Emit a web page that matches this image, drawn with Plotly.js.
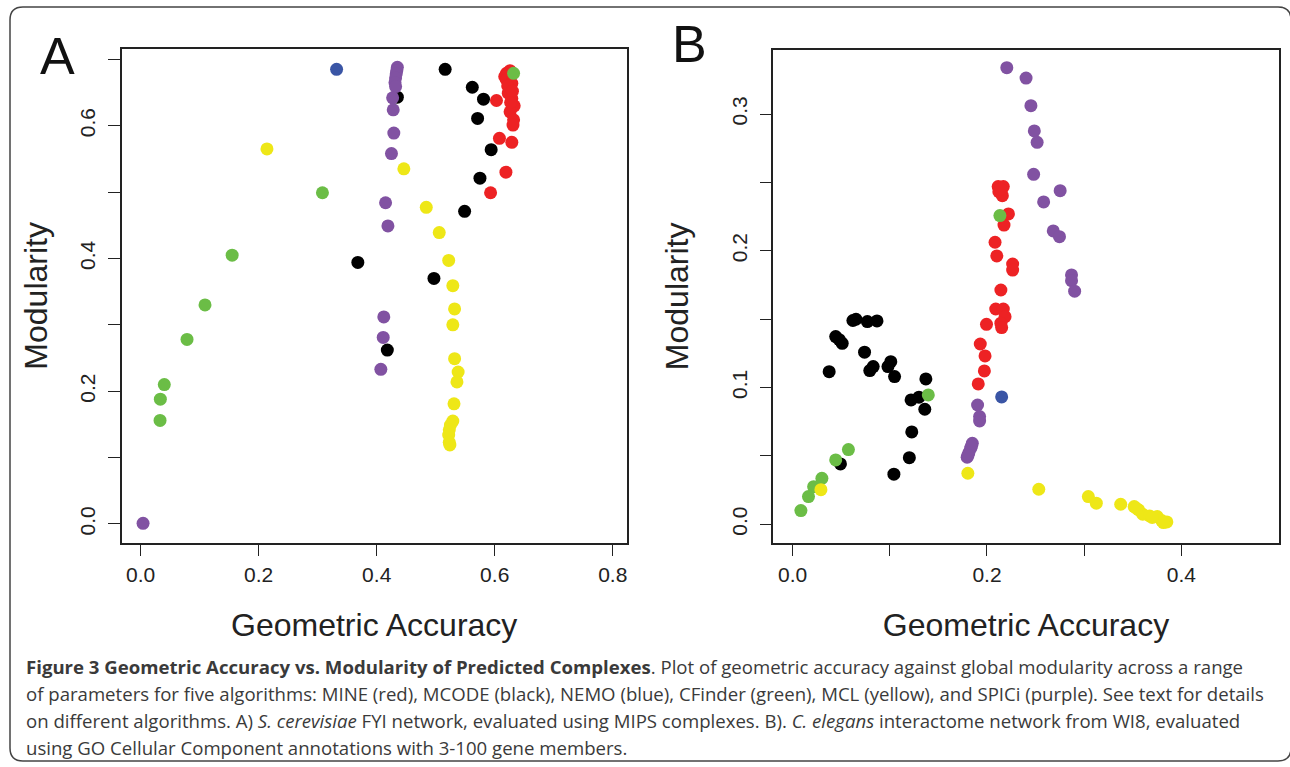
<!DOCTYPE html>
<html>
<head>
<meta charset="utf-8">
<script src="https://cdn.plot.ly/plotly-3.0.1.min.js"></script>
<style>html,body{margin:0;padding:0;background:#fff;}#chart{width:1290px;height:767px;}</style>
</head>
<body>
<div id="chart"></div>
<script>
// ---------- Panel A data (S. cerevisiae) ----------
const mineA_x = [0.620,0.626,0.617,0.620,0.629,0.625,0.623,0.629,0.603,0.633,0.626,0.632,0.631,0.608,0.629,0.619,0.593,0.622,0.630,0.627];
const mineA_y = [0.679,0.683,0.674,0.669,0.664,0.656,0.649,0.641,0.638,0.630,0.621,0.609,0.601,0.581,0.575,0.530,0.499,0.660,0.652,0.635];
const mcodeA_x = [0.516,0.562,0.581,0.435,0.571,0.594,0.575,0.549,0.368,0.497,0.418];
const mcodeA_y = [0.685,0.658,0.640,0.643,0.611,0.564,0.521,0.471,0.394,0.370,0.262];
const nemoA_x = [0.332];
const nemoA_y = [0.685];
const spiciA_x = [0.435,0.434,0.433,0.432,0.431,0.432,0.427,0.428,0.429,0.425,0.415,0.419,0.412,0.411,0.407,0.004];
const spiciA_y = [0.688,0.683,0.678,0.672,0.665,0.659,0.642,0.624,0.589,0.558,0.484,0.449,0.312,0.281,0.233,0.001];
const cfinderA_x = [0.632,0.308,0.155,0.109,0.0785,0.040,0.0333,0.0328];
const cfinderA_y = [0.679,0.499,0.405,0.330,0.278,0.210,0.188,0.156];
const mclA_x = [0.214,0.446,0.484,0.506,0.522,0.529,0.532,0.529,0.532,0.538,0.536,0.531,0.529,0.525,0.523,0.522,0.523,0.524];
const mclA_y = [0.565,0.535,0.477,0.439,0.397,0.359,0.324,0.300,0.249,0.229,0.214,0.181,0.155,0.149,0.142,0.134,0.123,0.119];

// ---------- Panel B data (C. elegans) ----------
const mineB_x = [0.2115,0.2168,0.2122,0.2158,0.2221,0.2175,0.2083,0.2101,0.2264,0.2264,0.2143,0.2090,0.2168,0.2186,0.1995,0.2143,0.2151,0.1931,0.1980,0.1973,0.1910,0.2140];
const mineB_y = [0.2469,0.2469,0.2432,0.2403,0.2269,0.2188,0.2062,0.1962,0.1903,0.1859,0.1713,0.1574,0.1574,0.1518,0.1462,0.1470,0.1438,0.1318,0.1231,0.1121,0.1026,0.2450];
const mcodeB_x = [0.0652,0.0769,0.0868,0.0443,0.0510,0.0740,0.1010,0.0981,0.0829,0.0794,0.0376,0.1049,0.1371,0.1300,0.1219,0.1360,0.1226,0.1201,0.0492,0.1042,0.0620,0.0480];
const mcodeB_y = [0.1499,0.1482,0.1487,0.1372,0.1323,0.1258,0.1189,0.1153,0.1153,0.1124,0.1116,0.1080,0.1063,0.0929,0.0909,0.0841,0.0675,0.0487,0.0441,0.0366,0.1490,0.1350];
const nemoB_x = [0.2151];
const nemoB_y = [0.0931];
const spiciB_x = [0.2204,0.2402,0.2452,0.2487,0.2516,0.2480,0.2753,0.2583,0.2682,0.2746,0.2870,0.2870,0.2902,0.1903,0.1924,0.1924,0.1849,0.1832,0.1814,0.1796,0.1840,0.1805];
const spiciB_y = [0.3339,0.3263,0.3061,0.2876,0.2793,0.2559,0.2439,0.2357,0.2145,0.2103,0.1823,0.1781,0.1704,0.0872,0.0787,0.0755,0.0592,0.0556,0.0524,0.0490,0.0570,0.0505];
const cfinderB_x = [0.2133,0.1396,0.0574,0.0443,0.0301,0.0216,0.0163,0.0085];
const cfinderB_y = [0.2257,0.0946,0.0546,0.0470,0.0336,0.0275,0.0202,0.0100];
const mclB_x = [0.1803,0.0291,0.2533,0.3043,0.3125,0.3376,0.3515,0.3561,0.3603,0.3674,0.3752,0.3798,0.3851,0.3816,0.3540,0.3700];
const mclB_y = [0.0373,0.0253,0.0256,0.0202,0.0154,0.0146,0.0129,0.0105,0.0073,0.0061,0.0056,0.0027,0.0017,0.0012,0.0115,0.0050];

// ---------- Tick values / labels ----------
const xA_tickvals = [0,0.2,0.4,0.6,0.8];
const xA_ticktext = ["0.0","0.2","0.4","0.6","0.8"];
const yA_tickvals = [0,0.1,0.2,0.3,0.4,0.5,0.6,0.7];
const yA_ticktext = ["0.0","","0.2","","0.4","","0.6",""];
const xB_tickvals = [0,0.1,0.2,0.3,0.4];
const xB_ticktext = ["0.0","","0.2","","0.4"];
const yB_tickvals = [0,0.05,0.1,0.15,0.2,0.25,0.3];
const yB_ticktext = ["0.0","","0.1","","0.2","","0.3"];

// ---------- Text ----------
const xTitle = "Geometric Accuracy";
const yTitle = "Modularity";
const captionLines = [
  "<b>Figure 3 Geometric Accuracy vs. Modularity of Predicted Complexes</b>. Plot of geometric accuracy against global modularity across a range",
  "of parameters for five algorithms: MINE (red), MCODE (black), NEMO (blue), CFinder (green), MCL (yellow), and SPICi (purple). See text for details",
  "on different algorithms. A) <i>S. cerevisiae</i> FYI network, evaluated using MIPS complexes. B). <i>C. elegans</i> interactome network from WI8, evaluated",
  "using GO Cellular Component annotations with 3-100 gene members."
];

const colors = {MINE:"#ED2224", MCODE:"#000000", NEMO:"#3A55A5", SPICi:"#8152A2", CFinder:"#6BBD46", MCL:"#EEE717"};

const W = 1290, H = 767;
const px = v => v / W;
const py = v => 1 - v / H;

function tr(name, x, y, xa, ya) {
  return {type:"scatter", mode:"markers", name:name, x:x, y:y, xaxis:xa, yaxis:ya,
    marker:{color:colors[name], size:13, line:{width:0}}, hoverinfo:"x+y+name", showlegend:false};
}

const data = [
  tr("MINE", mineA_x, mineA_y, "x", "y"),
  tr("MCODE", mcodeA_x, mcodeA_y, "x", "y"),
  tr("NEMO", nemoA_x, nemoA_y, "x", "y"),
  tr("SPICi", spiciA_x, spiciA_y, "x", "y"),
  tr("CFinder", cfinderA_x, cfinderA_y, "x", "y"),
  tr("MCL", mclA_x, mclA_y, "x", "y"),
  tr("MINE", mineB_x, mineB_y, "x2", "y2"),
  tr("MCODE", mcodeB_x, mcodeB_y, "x2", "y2"),
  tr("NEMO", nemoB_x, nemoB_y, "x2", "y2"),
  tr("SPICi", spiciB_x, spiciB_y, "x2", "y2"),
  tr("CFinder", cfinderB_x, cfinderB_y, "x2", "y2"),
  tr("MCL", mclB_x, mclB_y, "x2", "y2")
];

const tickFont = {family:"Liberation Sans, Arial, sans-serif", size:21, color:"#222"};
const titleFont = {family:"Liberation Sans, Arial, sans-serif", size:32, color:"#222"};

function axis(extra) {
  return Object.assign({
    showgrid:false, zeroline:false, showline:true, linecolor:"#222", linewidth:1.5, mirror:true,
    ticks:"outside", ticklen:12, tickwidth:1.2, tickcolor:"#222", tickfont:tickFont, tickmode:"array",
    fixedrange:true
  }, extra);
}

const layout = {
  width:W, height:H, margin:{l:0,r:0,t:0,b:0}, paper_bgcolor:"#fff", plot_bgcolor:"#fff",
  showlegend:false,
  xaxis: axis({domain:[px(121.7), px(626.7)], range:[-0.0322, 0.8237], tickvals:xA_tickvals, ticktext:xA_ticktext,
    title:{text:xTitle, font:titleFont, standoff:29}, anchor:"y"}),
  yaxis: axis({domain:[py(542.7), py(49)], range:[-0.0282, 0.7156], tickvals:yA_tickvals, ticktext:yA_ticktext, tickangle:-90,
    ticklabelstandoff:5, title:{text:yTitle, font:titleFont, standoff:18}, anchor:"x"}),
  xaxis2: axis({domain:[px(773.3), px(1278.7)], range:[-0.0199, 0.5002], tickvals:xB_tickvals, ticktext:xB_ticktext,
    title:{text:xTitle, font:titleFont, standoff:29}, anchor:"y2"}),
  yaxis2: axis({domain:[py(542.7), py(50)], range:[-0.0135, 0.3468], tickvals:yB_tickvals, ticktext:yB_ticktext, tickangle:-90,
    ticklabelstandoff:4, title:{text:yTitle, font:titleFont, standoff:30}, anchor:"x2"}),
  annotations: [],
  shapes: []
};

// Panel letters
layout.annotations.push({text:"A", xref:"paper", yref:"paper", x:px(57.5), y:py(56), xanchor:"center", yanchor:"middle",
  showarrow:false, font:{family:"Liberation Sans, Arial, sans-serif", size:52, color:"#111"}});
layout.annotations.push({text:"B", xref:"paper", yref:"paper", x:px(690), y:py(43.5), xanchor:"center", yanchor:"middle",
  showarrow:false, font:{family:"Liberation Sans, Arial, sans-serif", size:52, color:"#111"}});

// Caption
const capY = [666, 693, 720, 747];
captionLines.forEach((t, i) => {
  layout.annotations.push({text:t, xref:"paper", yref:"paper", x:px(24), y:py(capY[i]), xanchor:"left", yanchor:"middle",
    showarrow:false, align:"left", font:{family:"Open Sans, sans-serif", size:18.6, color:"#3a3a3a"}});
});

// Rounded frame
(function(){
  const L=10, T=7, R=1291, B=761, r=13;
  const P = (x,y) => px(x)+","+py(y);
  const path = "M"+P(L+r,T)+" L"+P(R-r,T)+" Q"+P(R,T)+" "+P(R,T+r)+" L"+P(R,B-r)+" Q"+P(R,B)+" "+P(R-r,B)+
    " L"+P(L+r,B)+" Q"+P(L,B)+" "+P(L,B-r)+" L"+P(L,T+r)+" Q"+P(L,T)+" "+P(L+r,T)+" Z";
  layout.shapes.push({type:"path", xref:"paper", yref:"paper", path:path, line:{color:"#444", width:1.5}, fillcolor:"rgba(0,0,0,0)", layer:"below"});
})();

Plotly.newPlot("chart", data, layout, {displayModeBar:false, responsive:false});
</script>
</body>
</html>
